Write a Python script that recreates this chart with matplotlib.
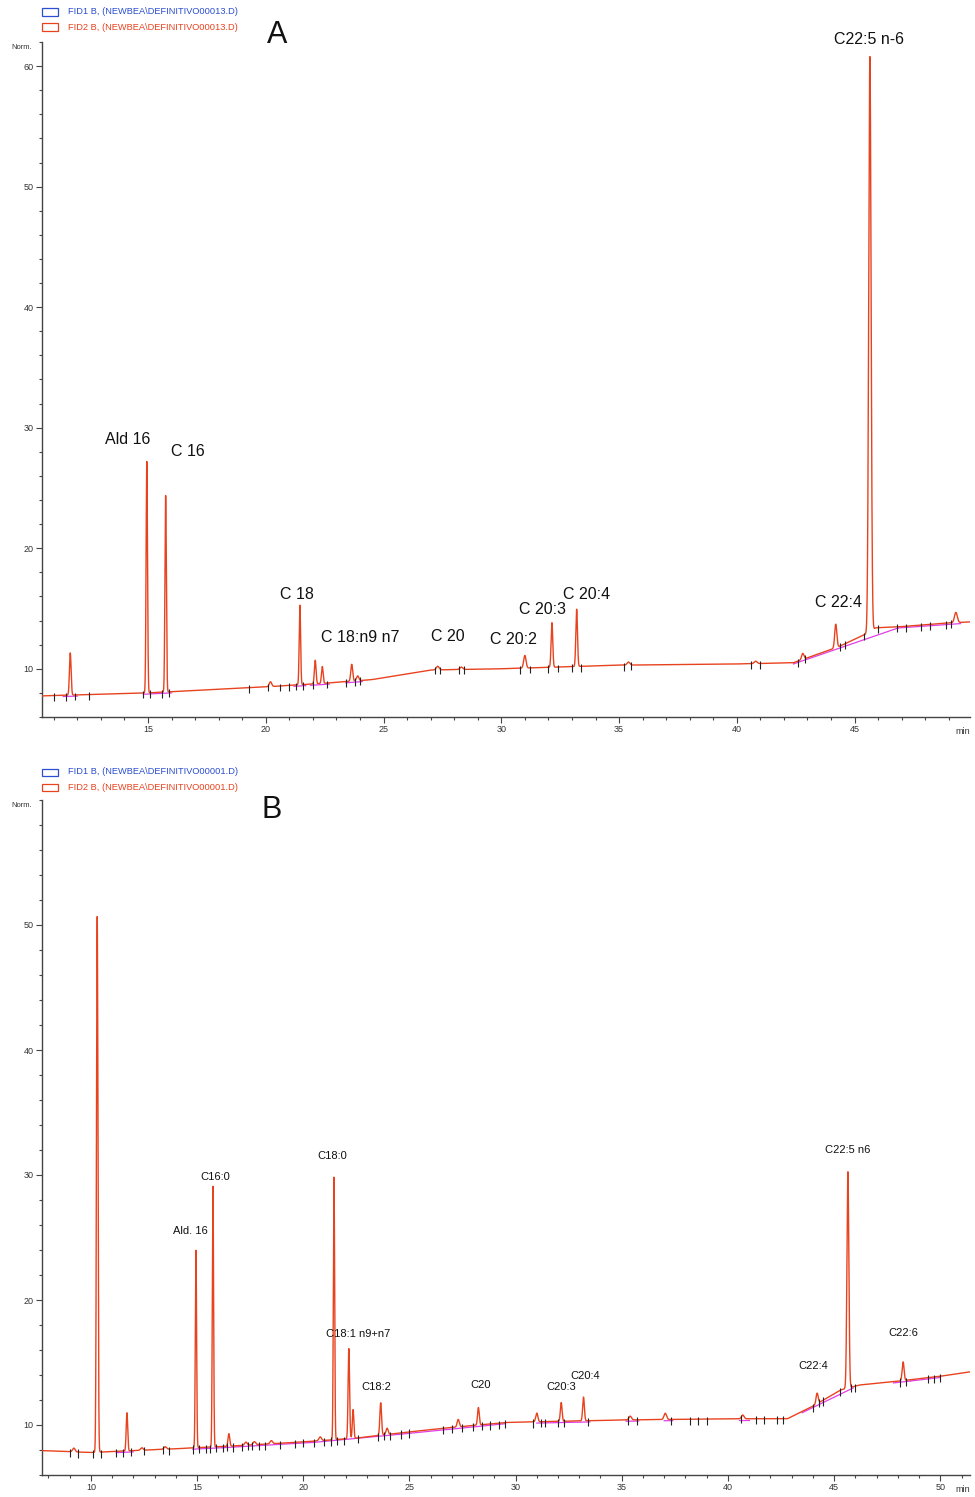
import numpy as np
import matplotlib.pyplot as plt
from matplotlib.patches import Rectangle
from matplotlib.ticker import MultipleLocator

plt.rcParams['font.family'] = ['Liberation Sans', 'DejaVu Sans']

# ---- panel A : baseline knots (min, Norm.) and peaks (time, height above baseline, sigma)
a_base_t = [10.5, 15.0, 20.0, 22.5, 24.5, 27.0, 30.0, 35.0, 40.0, 42.4, 44.0, 44.4, 45.5, 45.9, 47.0, 49.0, 50.0]
a_base_v = [7.75, 8.0, 8.5, 8.8, 9.1, 9.9, 10.0, 10.3, 10.4, 10.5, 11.6, 11.9, 12.9, 13.4, 13.5, 13.8, 13.9]
a_peak_t = [11.7, 14.95, 15.75, 20.2, 21.45, 22.1, 22.4, 23.65, 23.9, 27.3, 28.3,
            31.0, 32.15, 33.2, 35.4, 40.8, 42.8, 44.2, 45.65, 49.3]
a_peak_h = [3.5, 19.2, 16.3, 0.4, 6.6, 1.95, 1.4, 1.4, 0.4, 0.3, 0.2,
            1.05, 3.7, 4.75, 0.25, 0.2, 0.5, 1.95, 47.7, 0.85]
a_peak_w = [0.035, 0.03, 0.03, 0.05, 0.03, 0.035, 0.035, 0.04, 0.05, 0.06, 0.06,
            0.05, 0.035, 0.035, 0.06, 0.06, 0.05, 0.045, 0.05, 0.06]
a_marks = [11.0, 11.5, 11.9, 12.5, 14.8, 15.1, 15.6, 15.9, 19.3, 20.1, 20.6, 21.0, 21.3,
           21.6, 22.0, 22.6, 23.4, 23.8, 24.0, 27.2, 27.4, 28.2, 28.4, 30.8, 31.2,
           32.0, 32.4, 33.0, 33.4, 35.2, 35.5, 40.6, 41.0, 42.6, 42.9, 44.4, 44.6,
           45.4, 46.0, 46.8, 47.2, 47.8, 48.2, 48.9, 49.1]
a_labels = ['Ald 16', 'C 16', 'C 18', 'C 18:n9 n7', 'C 20', 'C 20:2', 'C 20:3', 'C 20:4',
            'C 22:4', 'C22:5 n-6']
a_lab_t = [14.15, 16.7, 21.33, 24.0, 27.74, 30.5, 31.77, 33.64, 44.3, 45.6]
a_lab_v = [29.0, 28.0, 16.2, 12.6, 12.7, 12.4, 14.9, 16.2, 15.5, 62.2]

# ---- panel B
b_base_t = [7.7, 10.0, 14.0, 17.0, 20.0, 22.5, 25.0, 27.0, 29.5, 35.0, 40.0, 42.8, 44.0, 45.3,
            46.2, 48.0, 50.0, 51.4]
b_base_v = [7.95, 7.8, 8.1, 8.35, 8.65, 8.95, 9.45, 9.8, 10.2, 10.4, 10.5, 10.5, 11.5, 12.8,
            13.2, 13.5, 13.9, 14.25]
b_peak_t = [9.2, 10.3, 11.7, 12.4, 13.5, 14.95, 15.75, 16.5, 17.3, 17.7, 18.5, 20.8, 21.45,
            22.15, 22.35, 23.65, 23.95, 27.3, 28.25, 31.0, 32.15, 33.2, 35.4, 37.05, 40.7,
            44.2, 45.65, 48.25]
b_peak_h = [0.3, 42.85, 3.05, 0.2, 0.2, 15.8, 20.85, 1.0, 0.25, 0.25, 0.25, 0.3, 21.0,
            7.2, 2.3, 2.6, 0.5, 0.6, 1.4, 0.7, 1.5, 1.9, 0.3, 0.5, 0.3,
            0.85, 17.3, 1.5]
b_peak_w = [0.06, 0.035, 0.035, 0.06, 0.06, 0.03, 0.03, 0.04, 0.06, 0.06, 0.06, 0.06, 0.03,
            0.035, 0.035, 0.04, 0.05, 0.05, 0.04, 0.05, 0.04, 0.04, 0.06, 0.06, 0.06,
            0.05, 0.045, 0.045]
b_marks = [9.0, 9.4, 10.1, 10.5, 11.2, 11.5, 11.9, 12.5, 13.4, 13.7, 14.8, 15.1, 15.4, 15.6,
           15.9, 16.2, 16.4, 16.7, 17.1, 17.4, 17.6, 17.9, 18.2, 18.9, 19.6, 20.0, 20.5,
           21.0, 21.3, 21.6, 21.9, 22.6, 23.5, 23.8, 24.1, 24.6, 25.0, 26.6, 27.0, 27.5,
           28.0, 28.4, 28.8, 29.2, 29.5, 30.8, 31.2, 31.4, 32.0, 32.3, 33.4, 35.3, 35.7,
           37.3, 38.2, 38.6, 39.0, 40.6, 41.3, 41.7, 42.3, 42.6, 44.0, 44.3, 44.5, 45.3,
           45.8, 46.0, 48.1, 48.4, 49.4, 49.7, 50.0]
b_labels = ['Ald. 16', 'C16:0', 'C18:0', 'C18:1 n9+n7', 'C18:2', 'C20', 'C20:3', 'C20:4',
            'C22:4', 'C22:5 n6', 'C22:6']
b_lab_t = [14.7, 15.88, 21.39, 22.6, 23.46, 28.35, 32.16, 33.29, 44.02, 45.62, 48.26]
b_lab_v = [25.5, 29.8, 31.5, 17.3, 13.06, 13.2, 13.0, 13.9, 14.7, 32.0, 17.4]

RED = '#e8431f'
MAG = '#e040e8'


def trace(t, base_t, base_v, pt, ph, pw):
    y = np.interp(t, base_t, base_v)
    for c, h, s in zip(pt, ph, pw):
        y = y + h * np.exp(-0.5 * ((t - c) / s) ** 2)
    return y


def panel(rect, xlim, ylim, base_t, base_v, pt, ph, pw, marks, labels, lt, lv, lsize,
          letter, letter_pos, leg_y, fname, ymajor_max, mag_segs):
    ax = fig.add_axes(rect)
    t = np.linspace(xlim[0], xlim[1], 30000)
    y = trace(t, base_t, base_v, pt, ph, pw)
    for s0, s1 in mag_segs:
        m = (t >= s0) & (t <= s1)
        ax.plot(t[m], np.interp(t[m], [s0, s1], np.interp([s0, s1], base_t, base_v)) - 0.1,
                color=MAG, lw=0.9, zorder=2)
    ax.plot(t, y, color=RED, lw=1.0, zorder=3)
    mv = np.interp(marks, t, y)
    ax.vlines(marks, mv - 0.45, mv + 0.2, color='#222222', lw=0.8, zorder=4)
    for s, x0, v0 in zip(labels, lt, lv):
        ax.text(x0, v0, s, ha='center', va='center', fontsize=lsize, color='#111111',
                clip_on=False)
    ax.text(letter_pos[0], letter_pos[1], letter, ha='center', va='center', fontsize=22,
            color='#111111', clip_on=False)
    ax.set_xlim(xlim)
    ax.set_ylim(ylim)
    for sp in ['top', 'right']:
        ax.spines[sp].set_visible(False)
    for sp in ['left', 'bottom']:
        ax.spines[sp].set_color('#444444')
        ax.spines[sp].set_linewidth(1.0)
    ax.set_yticks(np.arange(10, ymajor_max + 1, 10))
    ax.yaxis.set_minor_locator(MultipleLocator(2))
    ax.xaxis.set_major_locator(MultipleLocator(5))
    ax.xaxis.set_minor_locator(MultipleLocator(1))
    ax.tick_params(which='major', length=4, width=0.8, color='#444444', labelsize=6.5,
                   labelcolor='#333333', pad=2)
    ax.tick_params(which='minor', length=2.5, width=0.8, color='#444444')
    ax.text(1.0, -0.022, 'min', transform=ax.transAxes, ha='right', va='center',
            fontsize=6.5, color='#333333', clip_on=False)
    top_px = (1 - rect[1] - rect[3])
    fig.text(22 / 975, 1 - (top_px * 1497 + 6) / 1497, 'Norm.', fontsize=5.5,
             color='#333333', ha='center', va='center')
    for i, (nm, col) in enumerate([('FID1 B, ', '#2a4fd0'), ('FID2 B, ', '#e8431f')]):
        yy = 1 - (leg_y + 15 * i) / 1497
        fig.patches.append(Rectangle((42 / 975, yy - 3.5 / 1497), 16 / 975, 7 / 1497,
                                     transform=fig.transFigure, fill=False, edgecolor=col,
                                     lw=0.9))
        fig.text(68 / 975, yy, nm + '(NEWBEA\\DEFINITIVO' + fname + '.D)', fontsize=6.7,
                 color=col, ha='left', va='center')
    return ax


fig = plt.figure(figsize=(9.75, 14.97), dpi=100)

panel([42 / 975, 1 - 717 / 1497, 928 / 975, 675 / 1497], (10.5, 49.9), (6, 62),
      a_base_t, a_base_v, a_peak_t, a_peak_h, a_peak_w, a_marks,
      a_labels, a_lab_t, a_lab_v, 11.5, 'A', (20.5, 62.6), 12, '00013', 60,
      [(11.4, 12.0), (14.8, 16.0), (21.2, 21.7), (21.9, 22.7), (23.4, 24.1),
       (42.4, 46.85), (46.85, 49.5)])

panel([42 / 975, 1 - 1475 / 1497, 928 / 975, 675 / 1497], (7.7, 51.4), (6, 60),
      b_base_t, b_base_v, b_peak_t, b_peak_h, b_peak_w, b_marks,
      b_labels, b_lab_t, b_lab_v, 8, 'B', (18.52, 59.2), 772, '00001', 50,
      [(11.2, 12.0), (14.8, 16.2), (16.2, 20.5), (20.5, 24.5), (24.5, 29.5),
       (31.0, 33.5), (35.2, 35.8), (37.0, 37.4), (40.5, 41.0), (43.5, 45.9),
       (47.8, 48.6), (48.6, 50.0)])

fig.savefig('out.png', dpi=100, facecolor='white')
